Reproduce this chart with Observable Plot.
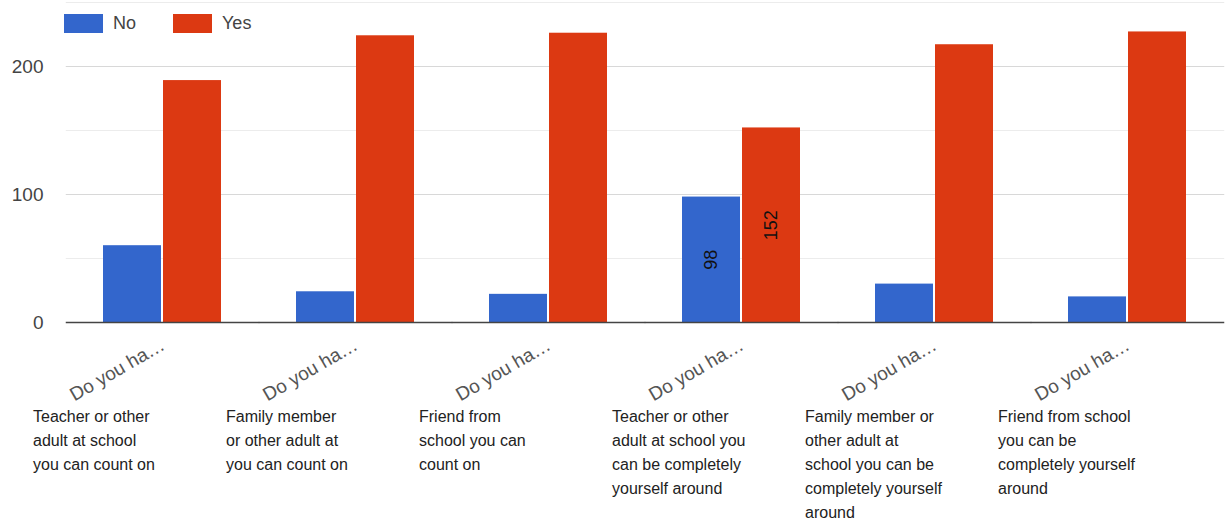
<!DOCTYPE html>
<html><head><meta charset="utf-8">
<script src="https://cdn.jsdelivr.net/npm/d3@7"></script>
<script src="https://cdn.jsdelivr.net/npm/@observablehq/plot@0.6"></script>
<style>
body{margin:0;background:#fff;font-family:"Liberation Sans",Arial,sans-serif;}
#wrap{position:relative;width:1225px;height:523px;}
.legend{position:absolute;left:64px;top:13px;display:flex;align-items:center;font-size:18px;color:#444;}
.item{display:flex;align-items:center;margin-right:37px;}
.sw{width:39px;height:19px;display:inline-block;margin-right:10px;}
</style></head><body>
<div id="wrap"><div class="legend" id="legend"></div></div>
<script>
const categories = [
  "Teacher or other adult at school you can count on",
  "Family member or other adult at you can count on",
  "Friend from school you can count on",
  "Teacher or other adult at school you can be completely yourself around",
  "Family member or other adult at school you can be completely yourself around",
  "Friend from school you can be completely yourself around"
];
const tickLabels = ["Do you ha…","Do you ha…","Do you ha…","Do you ha…","Do you ha…","Do you ha…"];
const subLabels = [
  "Teacher or other\nadult at school\nyou can count on",
  "Family member\nor other adult at\nyou can count on",
  "Friend from\nschool you can\ncount on",
  "Teacher or other\nadult at school you\ncan be completely\nyourself around",
  "Family member or\nother adult at\nschool you can be\ncompletely yourself\naround",
  "Friend from school\nyou can be\ncompletely yourself\naround"
];
const series = ["No", "Yes"];
const noValues = [60, 24, 22, 98, 30, 20];
const yesValues = [189, 224, 226, 152, 217, 227];
const annotated = [false, false, false, true, false, false];
const colors = ["#3366cc", "#dc3912"];
const yTicks = [0, 100, 200];
const minorTicks = [50, 150, 250];

const legend = document.getElementById("legend");
series.forEach((s, i) => {
  const it = document.createElement("div"); it.className = "item";
  const sw = document.createElement("span"); sw.className = "sw"; sw.style.background = colors[i];
  const t = document.createElement("span"); t.textContent = s;
  it.appendChild(sw); it.appendChild(t); legend.appendChild(it);
});

const rows = categories.flatMap((c, i) => [
  {category: c, series: "No", value: noValues[i], label: annotated[i]},
  {category: c, series: "Yes", value: yesValues[i], label: annotated[i]}
]);
const subRows = categories.map((c, i) => ({category: c, text: subLabels[i]}));

const chart = Plot.plot({
  width: 1225, height: 523,
  marginTop: 2, marginBottom: 201, marginLeft: 64, marginRight: 0,
  style: {fontFamily: "'Liberation Sans', Arial, sans-serif", fontSize: "16px", background: "transparent"},
  fx: {domain: categories, paddingInner: 0.385, paddingOuter: 0.1925, label: null},
  x: {domain: series, paddingInner: 0.033, paddingOuter: 0, axis: null},
  y: {domain: [0, 250], label: null},
  color: {domain: series, range: colors},
  marks: [
    Plot.ruleY(minorTicks, {stroke: "#ececec", insetLeft: -37.25, insetRight: -37.25}),
    Plot.ruleY([100, 200], {stroke: "#d8d8d8", insetLeft: -37.25, insetRight: -37.25}),
    Plot.axisY({ticks: yTicks, tickSize: 0, tickPadding: 60, fill: "#444", fontSize: 19, label: null}),
    Plot.axisFx({anchor: "bottom", tickFormat: d => tickLabels[categories.indexOf(d)], tickRotate: -30, tickSize: 0, tickPadding: 21, fill: "#555", fontSize: 19, label: null}),
    Plot.barY(rows, {fx: "category", x: "series", y: "value", fill: "series"}),
    Plot.ruleY([0], {stroke: "#444", strokeWidth: 1.5, insetLeft: -37.25, insetRight: -37.25}),
    Plot.text(rows.filter(d => d.label), {fx: "category", x: "series", y: d => d.value / 2, text: d => String(d.value), rotate: -90, fill: "#111", fontSize: 18}),
    Plot.text(subRows, {fx: "category", text: "text", frameAnchor: "bottom", textAnchor: "start", lineAnchor: "top", dx: -130, dy: 82, fill: "#222", fontSize: 16, lineHeight: 1.5})
  ]
});
document.getElementById("wrap").insertBefore(chart, legend);
</script>
</body></html>
